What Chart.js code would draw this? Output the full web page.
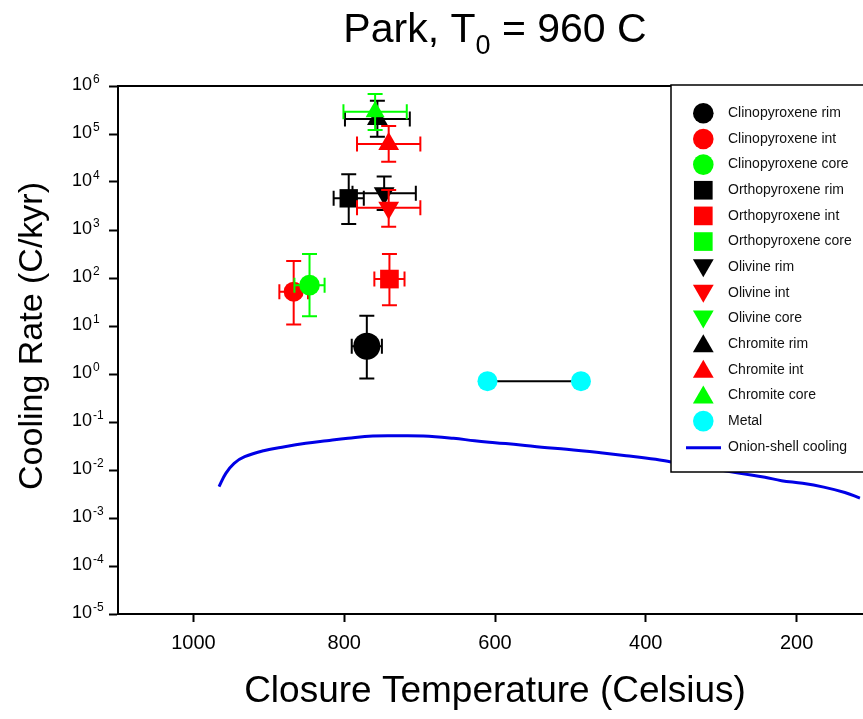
<!DOCTYPE html>
<html>
<head>
<meta charset="utf-8">
<title>Park, T0 = 960 C</title>
<script src="https://cdn.jsdelivr.net/npm/chart.js@4.4.1/dist/chart.umd.min.js"></script>
<style>
  html, body { margin: 0; padding: 0; overflow: hidden; background: #ffffff; }
  canvas { display: block; }
</style>
</head>
<body>
<canvas id="chart" width="900" height="719"></canvas>
<script>
// ---- data ----
const seriesLabels = [
  'Clinopyroxene rim', 'Clinopyroxene int', 'Clinopyroxene core',
  'Orthopyroxene rim', 'Orthopyroxene int', 'Orthopyroxene core',
  'Olivine rim', 'Olivine int', 'Olivine core',
  'Chromite rim', 'Chromite int', 'Chromite core'
];
// closure temperature (C) and its +/- uncertainty
const closureT    = [770, 867, 846, 794, 740, null, 747, 741, null, 756, 741, 759];
const closureTErr = [20, 19, 20, 20, 20, null, 42, 42, null, 43, 42, 42];
// cooling rate (C/kyr) with lower / upper bounds
const coolingRate = [3.8, 52, 71, 4570, 95, null, 5800, 2900, null, 2.05e5, 6.2e4, 2.9e5];
const rateLow     = [0.81, 10.8, 15.9, 1334, 27, null, 2600, 1170, null, 8.8e4, 2.65e4, 1.21e5];
const rateHigh    = [16.4, 226, 316, 14450, 316, null, 13000, 6800, null, 4.94e5, 1.47e5, 6.8e5];

const metalT    = [610, 486];
const metalRate = [0.71, 0.71];

const onionT = [966, 957, 946, 932, 907, 879, 851, 823, 795, 762, 728, 695, 655, 627, 600,
                566, 538, 505, 460, 426, 387, 368, 275, 242, 220, 192, 164, 136, 116];
const onionRate = [0.0045, 0.0085, 0.0138, 0.0189, 0.0252, 0.0306, 0.036, 0.0407, 0.0457, 0.0511,
                   0.0518, 0.0511, 0.0457, 0.0407, 0.0371, 0.0332, 0.0297, 0.027, 0.0229, 0.0199,
                   0.0167, 0.0149, 0.0085, 0.00705, 0.006, 0.0053, 0.0044, 0.0034, 0.0026];

const tempTicks = [1000, 800, 600, 400, 200];
const rateTickExponents = [6, 5, 4, 3, 2, 1, 0, -1, -2, -3, -4, -5];

// ---- styling ----
const FONT = '"Liberation Sans", Arial, Helvetica, sans-serif';
const BLACK = '#000000', RED = '#ff0000', GREEN = '#00ff00', CYAN = '#00ffff', BLUE = '#0000e6';
const mineralColors = [BLACK, RED, GREEN, BLACK, RED, GREEN, BLACK, RED, GREEN, BLACK, RED, GREEN];
const mineralShapes = ['circle', 'circle', 'circle', 'rect', 'rect', 'rect',
                       'triDown', 'triDown', 'triDown', 'triangle', 'triangle', 'triangle'];
const mineralRadius = [13.5, 10, 10.3, 13, 13.2, 13.2, 12, 12, 12, 12, 12, 11];

Chart.defaults.font.family = FONT;
Chart.defaults.color = BLACK;

const datasets = [];

datasets.push({
  label: 'Onion-shell cooling',
  data: onionT.map((t, i) => ({ x: t, y: onionRate[i] })),
  showLine: true,
  borderColor: BLUE,
  borderWidth: 3,
  pointRadius: 0,
  tension: 0.4,
  order: 100,
  keyShape: 'line'
});

seriesLabels.forEach((name, i) => {
  const has = closureT[i] !== null;
  datasets.push({
    label: name,
    data: has ? [{ x: closureT[i], y: coolingRate[i] }] : [],
    errors: has ? [{ dt: closureTErr[i], lo: rateLow[i], hi: rateHigh[i] }] : [],
    showLine: false,
    pointStyle: mineralShapes[i] === 'triDown' ? 'triangle' : mineralShapes[i],
    rotation: mineralShapes[i] === 'triDown' ? 180 : 0,
    pointRadius: mineralRadius[i],
    pointBackgroundColor: mineralColors[i],
    pointBorderColor: mineralColors[i],
    pointBorderWidth: 0,
    borderColor: mineralColors[i],
    order: 50 - i,
    keyShape: mineralShapes[i]
  });
});

datasets.push({
  label: 'Metal',
  data: metalT.map((t, i) => ({ x: t, y: metalRate[i] })),
  showLine: true,
  borderColor: BLACK,
  borderWidth: 2,
  pointRadius: 10,
  pointBackgroundColor: CYAN,
  pointBorderColor: CYAN,
  pointBorderWidth: 0,
  order: 20,
  keyShape: 'circle',
  keyColor: CYAN
});

// error bars drawn just before each dataset's own markers
const errorBars = {
  id: 'errorBars',
  beforeDatasetDraw(chart, args) {
    const ds = chart.data.datasets[args.index];
    if (!ds.errors || !ds.errors.length) return;
    const xs = chart.scales.x, ys = chart.scales.y, ctx = chart.ctx;
    const cap = 7.5;
    ctx.save();
    ctx.strokeStyle = ds.borderColor;
    ctx.lineWidth = 2;
    ds.data.forEach((p, j) => {
      const e = ds.errors[j];
      const px = xs.getPixelForValue(p.x), py = ys.getPixelForValue(p.y);
      const xa = xs.getPixelForValue(p.x + e.dt), xb = xs.getPixelForValue(p.x - e.dt);
      const yt = ys.getPixelForValue(e.hi), yb = ys.getPixelForValue(e.lo);
      ctx.beginPath();
      ctx.moveTo(xa, py); ctx.lineTo(xb, py);
      ctx.moveTo(xa, py - cap); ctx.lineTo(xa, py + cap);
      ctx.moveTo(xb, py - cap); ctx.lineTo(xb, py + cap);
      ctx.moveTo(px, yt); ctx.lineTo(px, yb);
      ctx.moveTo(px - cap, yt); ctx.lineTo(px + cap, yt);
      ctx.moveTo(px - cap, yb); ctx.lineTo(px + cap, yb);
      ctx.stroke();
    });
    ctx.restore();
  }
};

function drawMarker(ctx, shape, x, y, r, color) {
  ctx.fillStyle = color;
  ctx.beginPath();
  if (shape === 'circle') {
    ctx.arc(x, y, r, 0, Math.PI * 2);
  } else if (shape === 'rect') {
    const h = r * Math.SQRT1_2;
    ctx.rect(x - h, y - h, 2 * h, 2 * h);
  } else {
    const s = shape === 'triDown' ? -1 : 1;
    const hw = r * Math.sqrt(3) / 2;
    ctx.moveTo(x, y - s * r);
    ctx.lineTo(x + hw, y + s * r / 2);
    ctx.lineTo(x - hw, y + s * r / 2);
    ctx.closePath();
  }
  ctx.fill();
}

// frame top edge, title, y tick labels, y axis title and the key box
const decorations = {
  id: 'decorations',
  beforeDatasetsDraw(chart) {
    const { ctx, chartArea: a } = chart;
    ctx.save();
    ctx.strokeStyle = BLACK;
    ctx.lineWidth = 2;
    ctx.beginPath();
    ctx.moveTo(a.left, a.top); ctx.lineTo(a.right, a.top); ctx.lineTo(a.right, a.bottom);
    ctx.stroke();
    ctx.restore();
  },
  afterDraw(chart) {
    const { ctx, chartArea: a } = chart;
    const ys = chart.scales.y;
    ctx.save();

    // title with subscript
    const big = '41px ' + FONT, sub = '27px ' + FONT;
    ctx.fillStyle = BLACK;
    ctx.textBaseline = 'alphabetic';
    ctx.textAlign = 'left';
    ctx.font = big;
    const t1 = 'Park, T', t2 = ' = 960 C';
    const w1 = ctx.measureText(t1).width, w2 = ctx.measureText(t2).width;
    ctx.font = sub;
    const ws = ctx.measureText('0').width;
    const cx = (a.left + a.right) / 2;
    let x0 = cx - (w1 + ws + w2) / 2;
    ctx.font = big;
    ctx.fillText(t1, x0, 42);
    ctx.font = sub;
    ctx.fillText('0', x0 + w1, 54);
    ctx.font = big;
    ctx.fillText(t2, x0 + w1 + ws, 42);

    // y tick labels as powers of ten
    rateTickExponents.forEach(e => {
      const py = ys.getPixelForValue(Math.pow(10, e));
      ctx.font = '18px ' + FONT;
      ctx.textBaseline = 'middle';
      ctx.fillText('10', 72, py - 1);
      const w = ctx.measureText('10').width;
      ctx.font = '12px ' + FONT;
      ctx.fillText(String(e), 72 + w + 1, py - 6);
    });

    // y axis title
    ctx.save();
    ctx.translate(33, 336);
    ctx.rotate(-Math.PI / 2);
    ctx.font = '34px ' + FONT;
    ctx.textAlign = 'center';
    ctx.textBaseline = 'middle';
    ctx.fillText('Cooling Rate (C/kyr)', 0, 0);
    ctx.restore();

    // key box
    const kx = 671, ky = 85, kw = 196, kh = 387;
    ctx.fillStyle = '#ffffff';
    ctx.fillRect(kx, ky, kw, kh);
    ctx.strokeStyle = BLACK;
    ctx.lineWidth = 1.5;
    ctx.strokeRect(kx, ky, kw, kh);

    const keyOrder = seriesLabels.concat(['Metal', 'Onion-shell cooling']);
    const keyRadius = { circle: 10.3, rect: 13.2, triangle: 12, triDown: 12 };
    keyOrder.forEach((name, i) => {
      const ds = chart.data.datasets.find(d => d.label === name);
      const ry = 113.3 + i * 25.65;
      const mx = 703.3;
      if (ds.keyShape === 'line') {
        ctx.strokeStyle = ds.borderColor;
        ctx.lineWidth = 3;
        ctx.beginPath();
        ctx.moveTo(686, ry + 1); ctx.lineTo(721, ry + 1);
        ctx.stroke();
      } else {
        drawMarker(ctx, ds.keyShape, mx, ds.keyShape === 'triangle' ? ry + 2 : (ds.keyShape === 'triDown' ? ry - 2 : ry),
                   keyRadius[ds.keyShape], ds.keyColor || ds.pointBackgroundColor);
      }
      ctx.fillStyle = '#111111';
      ctx.font = '14px ' + FONT;
      ctx.textAlign = 'left';
      ctx.textBaseline = 'middle';
      ctx.fillText(name, 728, ry);
    });

    ctx.restore();
  }
};

new Chart(document.getElementById('chart'), {
  type: 'scatter',
  data: { datasets },
  options: {
    responsive: false,
    animation: false,
    events: [],
    layout: { padding: { top: 86, right: 28, left: 0, bottom: 0 } },
    plugins: {
      legend: { display: false },
      title: { display: false },
      tooltip: { enabled: false }
    },
    scales: {
      x: {
        type: 'linear',
        reverse: true,
        min: 100,
        max: 1100,
        afterBuildTicks: s => { s.ticks = tempTicks.map(v => ({ value: v })); },
        afterFit: s => { s.height = 105; },
        grid: { drawOnChartArea: false, drawTicks: true, tickLength: 8, tickColor: BLACK, tickWidth: 2 },
        border: { display: true, color: BLACK, width: 2 },
        ticks: { color: BLACK, font: { size: 20 }, padding: 9, maxRotation: 0, autoSkip: false,
                 callback: v => String(v) },
        title: {
          display: true,
          text: 'Closure Temperature (Celsius)',
          color: BLACK,
          font: { size: 37 },
          padding: { top: 0, bottom: 5 }
        }
      },
      y: {
        type: 'logarithmic',
        min: 1e-5,
        max: 1e6,
        afterBuildTicks: s => { s.ticks = rateTickExponents.map(e => ({ value: Math.pow(10, e) })); },
        afterFit: s => { s.width = 118; },
        grid: { drawOnChartArea: false, drawTicks: true, tickLength: 9, tickColor: BLACK, tickWidth: 2 },
        border: { display: true, color: BLACK, width: 2 },
        ticks: { callback: () => '', padding: 0 },
        title: { display: false }
      }
    }
  },
  plugins: [errorBars, decorations]
});
</script>
</body>
</html>
